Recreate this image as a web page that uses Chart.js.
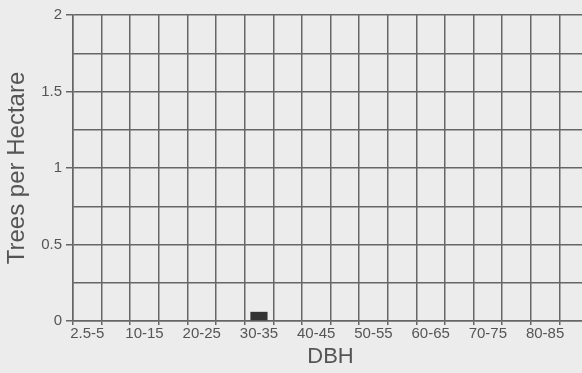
<!DOCTYPE html>
<html>
<head>
<meta charset="utf-8">
<script src="https://cdn.jsdelivr.net/npm/chart.js@4"></script>
<style>
  html, body { margin: 0; padding: 0; background: #ececec; overflow: hidden; }
  body { width: 582px; height: 373px; }
  #wrap { position: relative; width: 600px; height: 373px; }
</style>
</head>
<body>
<div id="wrap"><canvas id="chart"></canvas></div>
<script>
// DBH classes (cm), every other one gets a label
const dbhClasses = ['2.5-5', '5-10', '10-15', '15-20', '20-25', '25-30', '30-35', '35-40', '40-45',
  '45-50', '50-55', '55-60', '60-65', '65-70', '70-75', '75-80', '80-85', '85-90']
const treesPerHectare = [0, 0, 0, 0, 0, 0, 0.06, 0, 0, 0, 0, 0, 0, 0, 0, 0, 0, 0]
const yTicks = [0, 0.5, 1, 1.5, 2]

const gridColor = '#666'
const textColor = '#555'

new Chart(document.getElementById('chart'), {
  type: 'bar',
  data: {
    labels: dbhClasses,
    datasets: [{
      label: 'Trees per Hectare',
      data: treesPerHectare,
      backgroundColor: '#333',
      barPercentage: 0.6,
      categoryPercentage: 1
    }]
  },
  options: {
    responsive: true,
    maintainAspectRatio: false,
    animation: false,
    layout: { padding: { top: 15, right: 12, bottom: 3, left: 0 } },
    plugins: {
      legend: { display: false },
      tooltip: { enabled: false }
    },
    scales: {
      x: {
        afterFit: (scale) => { scale.height = 49 },
        grid: { color: gridColor, lineWidth: 1.5, tickLength: 4, offset: true },
        border: { color: gridColor, width: 1.5 },
        ticks: {
          autoSkip: false,
          maxRotation: 0,
          padding: 0,
          color: textColor,
          font: { family: 'Liberation Sans, Arial', size: 15 },
          callback: function(value, index) {
            return index % 2 === 0 ? this.getLabelForValue(value) : ''
          }
        },
        title: {
          display: true,
          text: 'DBH',
          color: textColor,
          font: { family: 'Liberation Sans, Arial', size: 22 },
          padding: { top: 0, bottom: 0 }
        }
      },
      y: {
        min: 0,
        max: 2,
        afterFit: (scale) => { scale.width = 73 },
        grid: {
          color: gridColor,
          lineWidth: 1.5,
          tickLength: 7,
          tickColor: (ctx) => yTicks.includes(ctx.tick.value) ? gridColor : 'rgba(0,0,0,0)'
        },
        border: { color: gridColor, width: 1.5 },
        ticks: {
          stepSize: 0.25,
          padding: 4,
          color: textColor,
          font: { family: 'Liberation Sans, Arial', size: 15 },
          callback: (value) => yTicks.includes(value) ? String(value) : ''
        },
        title: {
          display: true,
          text: 'Trees per Hectare',
          color: textColor,
          font: { family: 'Liberation Sans, Arial', size: 24 },
          padding: { top: 3, bottom: 0 }
        }
      }
    }
  }
})
</script>
</body>
</html>
